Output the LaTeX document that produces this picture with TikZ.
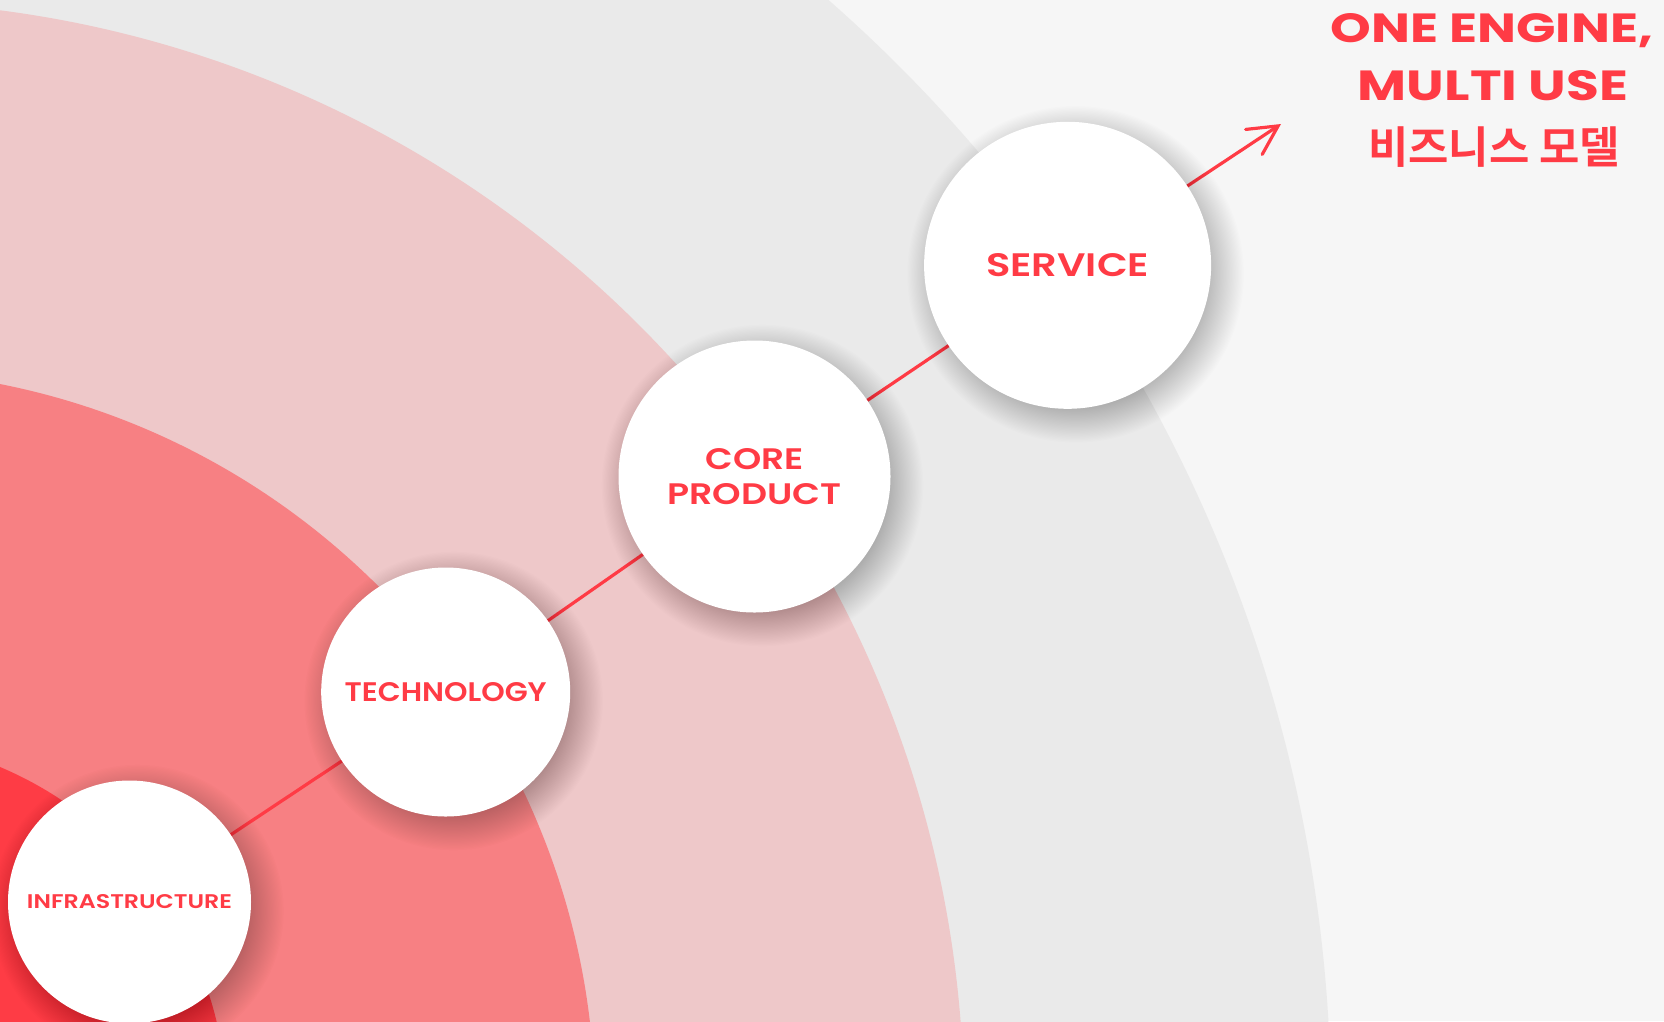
\documentclass[tikz,border=0pt]{standalone}
\usepackage{fontspec}
\setmainfont{Poppins}
\newfontfamily\labfont{Poppins SemiBold}
\newfontfamily\kfont{Noto Sans CJK KR}[BoldFont=* Bold]
\usetikzlibrary{arrows.meta}
\definecolor{bgA}{HTML}{F6F6F6}
\definecolor{bgB}{HTML}{EAEAEA}
\definecolor{bgC}{HTML}{EEC8C9}
\definecolor{bgD}{HTML}{F78083}
\definecolor{bgE}{HTML}{FE3C45}
\definecolor{txt}{HTML}{FF3B45}
\newcommand\softshade[2]{% center, radius
  \foreach \i in {0,...,29}{
    \fill[black, opacity=0.0085] ([shift={(8pt,-9pt)}]#1) circle[radius=#2pt-10pt+\i*1.2pt];
  }}
\begin{document}
\begin{tikzpicture}[x=1pt,y=-1pt,
  bub/.style={circle, fill=white, inner sep=0pt, text=txt, align=center, font=\labfont},
  link/.style={draw=txt, line width=3.2pt},
  ttl/.style={text=txt, inner sep=0pt}]
\useasboundingbox (0,0) rectangle (1664,1021);
\fill[bgA] (0,0) rectangle (1664,1021);
\begin{scope}
\clip (0,0) rectangle (1664,1021);
\fill[bgB] (-144,1109) circle[radius=1475pt];
\fill[bgC] (-144,1109) circle[radius=1108pt];
\fill[bgD] (-144,1109) circle[radius=739pt];
\fill[bgE] (-144,1109) circle[radius=371pt];
\end{scope}
% connectors first (behind circles)
\coordinate (pinfra) at (129.5,902);
\coordinate (ptech) at (445.7,692);
\coordinate (pcore) at (754.5,476.5);
\coordinate (pserv) at (1067.6,265.3);
\coordinate (tip) at (1281,124);
\draw[link] (pinfra) -- (ptech) -- (pcore) -- (pserv);
\draw[link, line cap=round, -{Straight Barb[length=29pt,width=30pt,line cap=round]}] (pserv) -- (tip);
% soft shadows
\begin{scope}
\clip (0,0) rectangle (1664,1021);
\softshade{pinfra}{121.5}
\softshade{ptech}{124.5}
\softshade{pcore}{136}
\softshade{pserv}{143.5}
\end{scope}
% circles
\node[bub, minimum size=243pt] (infra) at (pinfra) {\resizebox{205pt}{14pt}{INFRASTRUCTURE}};
\node[bub, minimum size=249pt] (tech) at (ptech) {\resizebox{202pt}{19pt}{TECHNOLOGY}};
\node[bub, minimum size=272pt, font=\labfont\fontsize{20}{35.6}\selectfont] (core) at (pcore) {\resizebox{98pt}{21pt}{CORE}\\\resizebox{174pt}{21pt}{PRODUCT}};
\node[bub, minimum size=287pt] (serv) at (pserv) {\resizebox{163pt}{23pt}{SERVICE}};
% title
\node[ttl, anchor=base] (t1) at (1492,42) {\bfseries\resizebox{322pt}{29pt}{ONE ENGINE,}};
\node[ttl, anchor=base] (t2) at (1493,100) {\bfseries\resizebox{270pt}{30pt}{MULTI USE}};
\node[ttl] (t3) at (1494,147) {\kfont\bfseries\resizebox{252pt}{!}{비즈니스 모델}};
\end{tikzpicture}
\end{document}
